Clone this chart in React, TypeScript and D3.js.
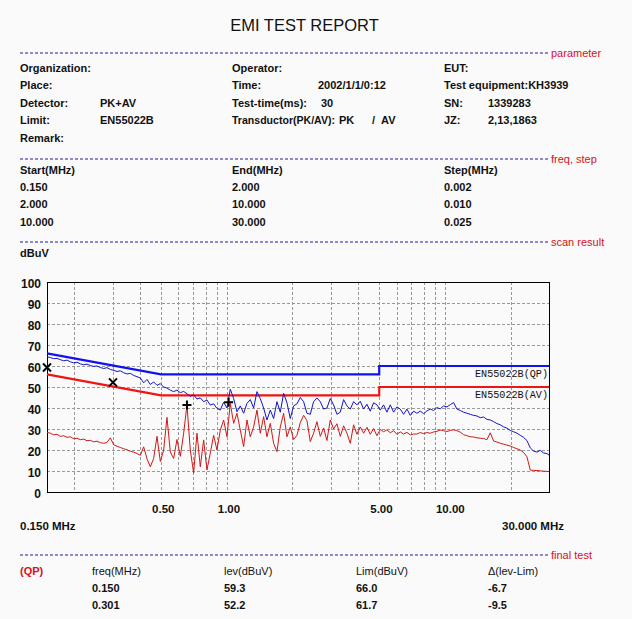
import React, { useEffect } from "react";
import * as d3 from "d3";

// ---- scan data (frequency in MHz, level in dBuV) ----
const FREQ = [
  0.150, 0.1554, 0.1609, 0.1667, 0.1727, 0.1789, 0.1853, 0.1919, 0.1988, 0.2059,
  0.2133, 0.2209, 0.2288, 0.2370, 0.2455, 0.2543, 0.2634, 0.2728, 0.2826, 0.2927,
  0.3032, 0.3140, 0.3253, 0.3369, 0.3490, 0.3615, 0.3744, 0.3878, 0.4017, 0.4161,
  0.4310, 0.4464, 0.4624, 0.4789, 0.4961, 0.5138, 0.5322, 0.5513, 0.5710, 0.5914,
  0.6126, 0.6345, 0.6572, 0.6807, 0.7051, 0.7303, 0.7565, 0.7835, 0.8116, 0.8406,
  0.8707, 0.9019, 0.9342, 0.9676, 1.0022, 1.0381, 1.0753, 1.1138, 1.1537, 1.1950,
  1.2378, 1.2821, 1.3280, 1.3755, 1.4248, 1.4758, 1.5286, 1.5834, 1.6401, 1.6988,
  1.7596, 1.8226, 1.8879, 1.9555, 2.0255, 2.0980,
  2.173, 2.251, 2.331, 2.415, 2.501, 2.591, 2.684, 2.780, 2.879, 2.982,
  3.089, 3.200, 3.314, 3.433, 3.556, 3.683, 3.815, 3.952, 4.093, 4.240,
  4.391, 4.549, 4.712, 4.880, 5.055, 5.236, 5.424, 5.618, 5.819, 6.027,
  6.243, 6.467, 6.698, 6.938, 7.187, 7.444, 7.710, 7.986, 8.272, 8.568,
  8.875, 9.193, 9.522, 9.863, 10.216, 10.582, 10.961, 11.353, 11.760, 12.181,
  12.617, 13.069, 13.537, 14.021, 14.523, 15.043, 15.582, 16.140, 16.718, 17.316,
  17.936, 18.578, 19.243, 19.932, 20.646, 21.385, 22.151, 22.944, 23.765, 24.616,
  25.497, 26.410, 27.356, 28.335, 29.349, 30.000,
];

const PK = [
  64.4, 64.0, 63.5, 63.6, 63.0, 62.5, 62.8, 62.0, 61.5, 61.8,
  61.0, 60.6, 60.9, 60.2, 59.8, 60.0, 59.3, 58.8, 59.2, 58.4,
  57.9, 57.4, 57.7, 56.8, 56.2, 56.5, 55.5, 54.9, 54.3, 52.0,
  53.6, 51.2, 52.4, 50.8, 51.6, 50.0, 49.5, 48.5, 47.8, 48.5,
  47.3, 47.9, 46.8, 45.6, 46.2, 44.3, 44.8, 43.0, 43.8, 41.4,
  42.0, 39.8, 39.0, 42.8, 40.0, 49.0, 44.5, 38.2, 41.0, 37.5,
  42.2, 44.0, 40.0, 47.8, 44.5, 40.0, 34.3, 39.0, 35.0, 43.0,
  38.0, 47.0, 42.5, 35.0, 41.0, 42.0,
  45.0, 43.0, 37.5, 37.0, 43.0, 44.8, 43.0, 39.5, 40.0, 44.5,
  41.5, 37.0, 38.0, 44.0, 41.0, 39.5, 43.0, 41.5, 43.2, 39.5,
  41.8, 38.5, 42.5, 41.5, 39.0, 41.5, 38.0, 41.5, 38.0, 40.5,
  39.5, 37.0, 39.5, 36.5, 38.5, 37.5, 38.5, 37.3, 38.6, 39.5,
  38.8, 40.2, 39.6, 41.0, 40.5, 41.6, 42.6, 39.5, 38.8, 38.0,
  37.5, 37.0, 36.5, 36.2, 35.4, 35.7, 34.6, 34.3, 33.5, 32.6,
  32.0, 31.0, 30.4, 29.3, 28.7, 28.0, 27.0, 26.0, 24.5, 21.0,
  19.5, 19.0, 19.8, 18.6, 18.3, 17.6,
];

const AV = [
  28.4, 28.0, 27.2, 27.5, 26.5, 26.8, 26.0, 26.3, 25.4, 25.6,
  24.9, 25.2, 24.4, 24.6, 23.9, 24.2, 23.5, 23.2, 23.6, 25.8,
  22.5, 21.8, 21.2, 20.6, 20.1, 19.4, 19.0, 18.3, 17.5, 21.5,
  15.8, 12.0, 16.0, 26.5, 14.5, 20.0, 35.5, 19.0, 16.0, 25.0,
  17.0, 28.0, 41.4, 20.0, 9.0, 28.0, 12.0, 24.8, 10.5, 18.5,
  27.0, 20.0, 29.5, 34.3, 26.3, 42.2, 32.7, 37.5, 29.5, 21.6,
  34.3, 26.3, 31.0, 39.0, 28.0, 35.9, 26.3, 32.7, 23.2, 19.2,
  31.0, 37.5, 26.3, 31.0, 25.0, 27.0,
  33.0, 36.5, 34.0, 24.0, 28.0, 33.5, 26.5, 30.5, 24.5, 34.3,
  30.0, 32.5, 26.5, 31.5, 28.0, 23.2, 32.0, 27.5, 31.0, 28.0,
  30.8, 27.5, 30.2, 26.8, 29.8, 28.7, 29.6, 28.2, 29.2, 27.5,
  28.6, 27.6, 28.4, 27.2, 27.6, 27.6, 28.3, 27.8, 28.3, 28.0,
  28.6, 28.9, 29.5, 29.2, 28.8, 29.3, 29.6, 29.2, 28.5, 27.3,
  26.8, 26.3, 26.2, 25.8, 25.6, 25.5, 24.9, 28.2, 24.3, 23.8,
  23.2, 22.8, 22.3, 21.9, 21.2, 20.6, 20.0, 18.8, 16.8, 10.4,
  10.3, 10.2, 10.1, 9.9, 9.8, 9.7,
];

// ---- limit lines (EN55022B) ----
const LIMIT_FREQ = [0.15, 0.5, 5, 5, 30];
const LIMIT_QP = [66, 56, 56, 60, 60];
const LIMIT_AV = [56, 46, 46, 50, 50];
const LIMIT_NAMES = ["EN55022B(QP)", "EN55022B(AV)"];

// ---- final test markers ----
const QP_MARK_FREQ = [0.150, 0.301];
const QP_MARK_LEV = [59.3, 52.2];
const AV_MARK_FREQ = [0.657, 1.02];
const AV_MARK_LEV = [41.4, 42.7];

// ---- axes ----
const Y_TICKS = [0, 10, 20, 30, 40, 50, 60, 70, 80, 90, 100];
const X_TICKS = [0.5, 1, 5, 10];
const X_TICK_LABELS = ["0.50", "1.00", "5.00", "10.00"];

// ---- final test table ----
const FT_FREQ = ["0.150", "0.301"];
const FT_LEV = ["59.3", "52.2"];
const FT_LIM = ["66.0", "61.7"];
const FT_DELTA = ["-6.7", "-9.5"];

const FONT = "'Liberation Sans', Arial, sans-serif";
const NAVY = "#1a1aa0";
const SECRED = "#d81020";

export default function App() {
  useEffect(() => {
    document.body.style.margin = "0";
    document.body.style.background = "#fafafa";
  }, []);

  const left = 47, right = 549, top = 282, bottom = 492;
  const x = d3.scaleLog().domain([0.15, 30]).range([left, right]);
  const y = d3.scaleLinear().domain([0, 100]).range([bottom, top]);
  const line = d3
    .line<[number, number]>()
    .x((d) => x(d[0]))
    .y((d) => y(d[1]));

  const pkPts = FREQ.map((f, i) => [f, PK[i]] as [number, number]);
  const avPts = FREQ.map((f, i) => [f, AV[i]] as [number, number]);
  const qpLim = LIMIT_FREQ.map((f, i) => [f, LIMIT_QP[i]] as [number, number]);
  const avLim = LIMIT_FREQ.map((f, i) => [f, LIMIT_AV[i]] as [number, number]);
  const gridX = x.ticks().filter((t) => t > 0.15 && t < 30);

  const sectionLine = (yy: number, label: string) => (
    <g key={label}>
      <line x1={20} x2={548} y1={yy} y2={yy} stroke={NAVY} strokeWidth={1} strokeDasharray="3,2" />
      <text x={551} y={yy + 4} fill={SECRED} fontSize={11} fontFamily={FONT}>{label}</text>
    </g>
  );

  const T = (xx: number, yy: number, s: string, extra: any = {}) => (
    <text x={xx} y={yy} fontSize={11} fontWeight="bold" fontFamily={FONT} fill="#111" {...extra}>{s}</text>
  );

  return (
    <svg width={632} height={619} style={{ display: "block" }}>
      <rect x={0} y={0} width={632} height={619} fill="#fafafa" />
      <text x={304.5} y={31} textAnchor="middle" fontSize={16.5} fontFamily={FONT} fill="#111">EMI TEST REPORT</text>

      {sectionLine(53, "parameter")}
      {T(20, 72, "Organization:")}
      {T(232, 72, "Operator:")}
      {T(444, 72, "EUT:")}
      {T(20, 89, "Place:")}
      {T(232, 89, "Time:")}
      {T(318, 89, "2002/1/1/0:12")}
      {T(444, 89, "Test equipment:KH3939")}
      {T(20, 107, "Detector:")}
      {T(100, 107, "PK+AV")}
      {T(232, 107, "Test-time(ms):")}
      {T(321, 107, "30")}
      {T(444, 107, "SN:")}
      {T(488, 107, "1339283")}
      {T(20, 124, "Limit:")}
      {T(100, 124, "EN55022B")}
      {T(232, 124, "Transductor(PK/AV):", { textLength: 103, lengthAdjust: "spacingAndGlyphs" })}
      {T(339, 124, "PK")}
      {T(372, 124, "/")}
      {T(381, 124, "AV")}
      {T(444, 124, "JZ:")}
      {T(488, 124, "2,13,1863")}
      {T(20, 142, "Remark:")}

      {sectionLine(159, "freq, step")}
      {T(20, 174, "Start(MHz)")}
      {T(232, 174, "End(MHz)")}
      {T(444, 174, "Step(MHz)")}
      {T(20, 191, "0.150")}
      {T(232, 191, "2.000")}
      {T(444, 191, "0.002")}
      {T(20, 208, "2.000")}
      {T(232, 208, "10.000")}
      {T(444, 208, "0.010")}
      {T(20, 226, "10.000")}
      {T(232, 226, "30.000")}
      {T(444, 226, "0.025")}

      {sectionLine(242, "scan result")}
      {T(20, 257, "dBuV")}

      {/* grid */}
      <g stroke="#999" strokeWidth={1} strokeDasharray="3,2">
        {Y_TICKS.filter((t) => t > 0 && t < 100).map((t) => (
          <line key={"gy" + t} x1={left} x2={right} y1={Math.round(y(t)) + 0.5} y2={Math.round(y(t)) + 0.5} />
        ))}
        {gridX.map((t) => (
          <line key={"gx" + t} x1={Math.round(x(t)) + 0.5} x2={Math.round(x(t)) + 0.5} y1={top} y2={bottom} />
        ))}
      </g>
      <rect x={left + 0.5} y={top + 0.5} width={right - left} height={bottom - top} fill="none" stroke="#000" strokeWidth={1} />

      {/* y labels */}
      {Y_TICKS.map((t) => (
        <text key={"yl" + t} x={41} y={y(t) + 5.5} textAnchor="end" fontSize={12} fontWeight="bold" fontFamily={FONT} fill="#111">{t}</text>
      ))}
      {/* x labels */}
      {X_TICKS.map((t, i) => (
        <text key={"xl" + t} x={x(t) - 9} y={512.5} fontSize={11.5} fontWeight="bold" fontFamily={FONT} fill="#111">{X_TICK_LABELS[i]}</text>
      ))}
      {T(20, 530, "0.150 MHz", { fontSize: 11.5 })}
      {T(502, 530, "30.000 MHz", { fontSize: 11.5 })}

      {/* limits */}
      <path d={line(qpLim) || ""} fill="none" stroke="#1212f0" strokeWidth={2.2} />
      <path d={line(avLim) || ""} fill="none" stroke="#f01414" strokeWidth={2.2} />
      <text x={548} y={377} textAnchor="end" fontSize={11} fontFamily="'Liberation Mono', 'DejaVu Sans Mono', monospace" fill="#111" textLength={73} lengthAdjust="spacingAndGlyphs">{LIMIT_NAMES[0]}</text>
      <text x={548} y={398} textAnchor="end" fontSize={11} fontFamily="'Liberation Mono', 'DejaVu Sans Mono', monospace" fill="#111" textLength={73} lengthAdjust="spacingAndGlyphs">{LIMIT_NAMES[1]}</text>

      {/* traces */}
      <path d={line(pkPts) || ""} fill="none" stroke="#1414c8" strokeWidth={1} strokeLinejoin="round" />
      <path d={line(avPts) || ""} fill="none" stroke="#d01818" strokeWidth={1} strokeLinejoin="round" />

      {/* markers */}
      {QP_MARK_FREQ.map((f, i) => {
        const cx = x(f), cy = y(QP_MARK_LEV[i]);
        return <path key={"qm" + i} d={`M${cx - 4},${cy - 4}L${cx + 4},${cy + 4}M${cx + 4},${cy - 4}L${cx - 4},${cy + 4}`} stroke="#000" strokeWidth={2} />;
      })}
      {AV_MARK_FREQ.map((f, i) => {
        const cx = x(f), cy = y(AV_MARK_LEV[i]);
        return <path key={"am" + i} d={`M${cx - 4.5},${cy}H${cx + 4.5}M${cx},${cy - 4.5}V${cy + 4.5}`} stroke="#000" strokeWidth={2} />;
      })}

      {sectionLine(555, "final test")}
      <text x={20} y={575} fontSize={11} fontWeight="bold" fontFamily={FONT} fill={SECRED}>(QP)</text>
      {T(92, 575, "freq(MHz)", { fontWeight: "normal" })}
      {T(224, 575, "lev(dBuV)", { fontWeight: "normal" })}
      {T(356, 575, "Lim(dBuV)", { fontWeight: "normal" })}
      {T(488, 575, "Δ(lev-Lim)", { fontWeight: "normal" })}
      {FT_FREQ.map((f, i) => (
        <g key={"ft" + i}>
          {T(92, 592 + i * 17, f)}
          {T(224, 592 + i * 17, FT_LEV[i])}
          {T(356, 592 + i * 17, FT_LIM[i])}
          {T(488, 592 + i * 17, FT_DELTA[i])}
        </g>
      ))}
    </svg>
  );
}
